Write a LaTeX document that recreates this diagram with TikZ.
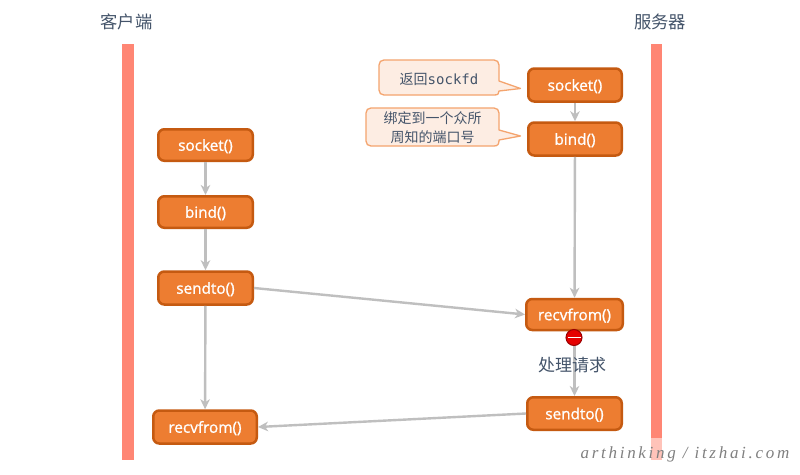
\documentclass[tikz,border=0pt]{standalone}
\usepackage{fontspec}
\setmainfont{Open Sans}
\newfontfamily\fnfont[FakeBold=1.2]{Open Sans}
\newfontfamily\cjk{Noto Sans CJK SC}
\newfontfamily\monof{DejaVu Sans Mono}
\newfontfamily\wmf[LetterSpace=16]{Liberation Serif}
\usetikzlibrary{arrows.meta}
\definecolor{barc}{HTML}{FF8674}
\definecolor{boxf}{HTML}{ED7D31}
\definecolor{boxd}{HTML}{C55A11}
\definecolor{linec}{HTML}{BFBFBF}
\definecolor{inkc}{HTML}{44546A}
\definecolor{callf}{HTML}{FDEDE3}
\definecolor{calld}{HTML}{F4A46E}
\tikzset{
  fn/.style={draw=boxd,fill=boxf,line width=2.5pt,rounded corners=6pt,text=white,inner sep=0pt,
    text height=12.5pt,text depth=1pt,font=\fontsize{15.3}{16}\selectfont\fnfont},
  conn/.style={draw=linec,line width=2.4pt,-{Stealth[length=10pt,width=9.5pt,inset=3pt]}},
  call/.style={draw=calld,fill=callf,line width=1.3pt,line join=round},
  calltext/.style={text=inkc,inner sep=0pt,align=center,font=\fontsize{14}{19}\selectfont\cjk},
  head/.style={text=inkc,inner sep=0pt,font=\fontsize{17.3}{19}\selectfont\cjk},
  bar/.style={fill=barc,draw=none}
}
\begin{document}
\begin{tikzpicture}[x=1pt,y=-1pt]
\useasboundingbox (0,0) rectangle (800,474);
\fill[white] (0,0) rectangle (800,474);
% lifelines
\fill[bar] (122,44) rectangle (133.5,460);
\fill[bar] (651,44) rectangle (661.5,438);
\fill[barc!50!white] (651,438) rectangle (661.5,460);
\node[head] (client) at (126.5,22) {客户端};
\node[head] (server) at (660,22) {服务器};
% client boxes
\node[fn,minimum width=94.5pt,minimum height=31.5pt] (cs) at (205.5,145) {socket()};
\node[fn,minimum width=94.5pt,minimum height=31.5pt] (cb) at (205.5,212) {bind()};
\node[fn,minimum width=94.5pt,minimum height=33pt] (cd) at (205.5,288) {sendto()};
\node[fn,minimum width=103.5pt,minimum height=33pt] (cr) at (205,427) {recvfrom()};
% server boxes
\node[fn,minimum width=93.5pt,minimum height=33pt] (ss) at (575,85) {socket()};
\node[fn,minimum width=93.5pt,minimum height=33pt] (sb) at (575,139) {bind()};
\node[fn,minimum width=96.5pt,minimum height=31pt] (sr) at (574.5,314.5) {recvfrom()};
\node[fn,minimum width=94.5pt,minimum height=32.5pt] (sd) at (574.5,413.5) {sendto()};
% connectors
\draw[conn] (cs) -- (cb);
\draw[conn] (cb) -- (cd);
\draw[conn] (cd) -- (cr);
\draw[conn] (ss) -- (sb);
\draw[conn] (sb) -- (sr);
\draw[conn] (sr) -- (sd);
\draw[conn] (cd.east) -- (sr.west);
\draw[conn] (sd.west) -- (cr.east);
% callouts
\draw[call] (499,81) -- (520.5,88.5) -- (499,91) .. controls (499,94) and (498,95) .. (494,95) -- (384,95) .. controls (381,95) and (379,93) .. (379,90) -- (379,65) .. controls (379,62) and (381,60) .. (384,60) -- (494,60) .. controls (497,60) and (499,62) .. (499,65) -- cycle;
\node[calltext] (c1) at (439,79) {返回{\monof sockfd}};
\draw[call] (499,130) -- (520.5,136) -- (499,140) .. controls (499,144) and (498,146) .. (494,146) -- (371,146) .. controls (368,146) and (366,144) .. (366,141) -- (366,113) .. controls (366,110) and (368,108) .. (371,108) -- (494,108) .. controls (497,108) and (499,110) .. (499,113) -- cycle;
\node[calltext] (c2) at (432.5,128) {绑定到一个众所\\周知的端口号};
% stop icon
\node[circle,fill=red!90!black,draw=red!60!black,line width=1pt,minimum size=16pt,inner sep=0pt] (stop) at (574,337.5) {};
\fill[white] (567.5,336.7) rectangle (580.5,338.3);
\node[text=inkc,inner sep=0pt,font=\fontsize{17}{19}\selectfont\cjk] (proc) at (572,365) {处理请求};
% watermark
\node[text=gray,inner sep=0pt,font=\fontsize{17}{19}\selectfont\wmf\itshape] (wm) at (685,454) {arthinking / itzhai.com};
\end{tikzpicture}
\end{document}
